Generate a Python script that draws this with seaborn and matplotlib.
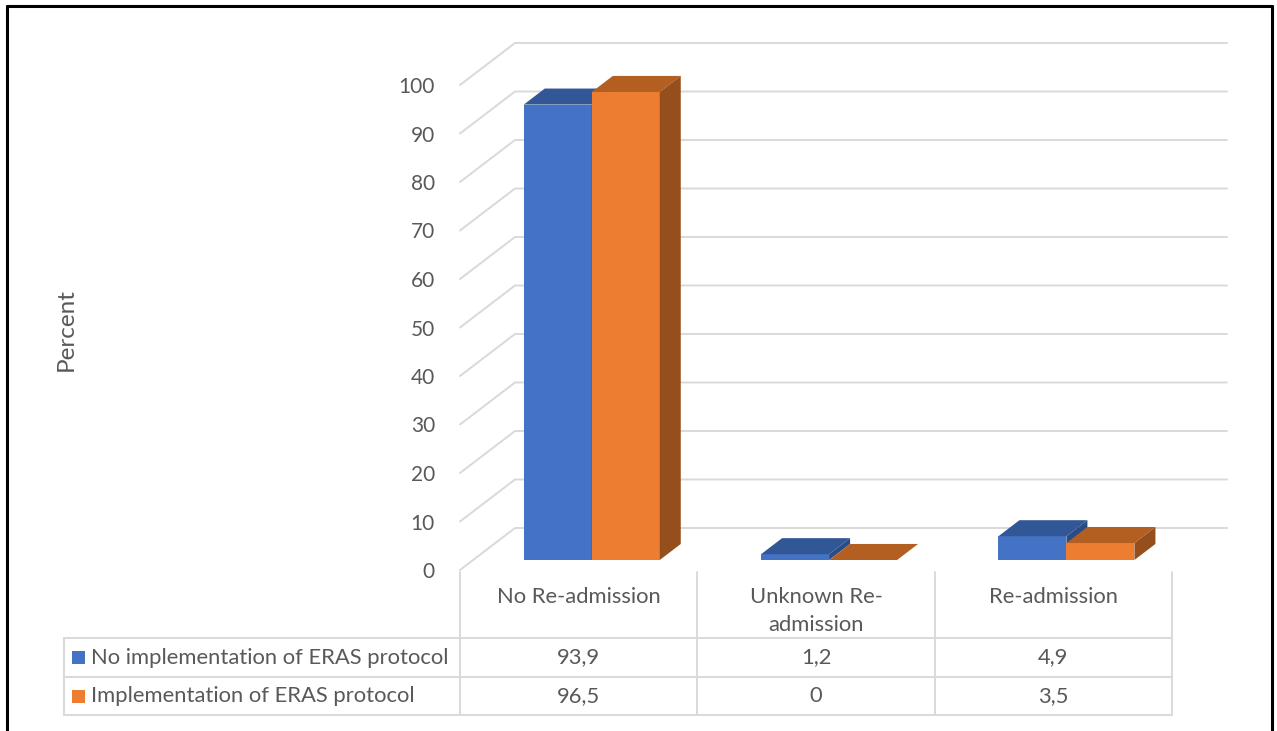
import matplotlib
matplotlib.use("Agg")
import matplotlib.pyplot as plt
from matplotlib.lines import Line2D
from matplotlib.patches import Rectangle
import seaborn as sns
import pandas as pd

# ---- data -------------------------------------------------------------
categories = ["No Re-admission", "Unknown Re-\nadmission", "Re-admission"]
series_names = ["No implementation of ERAS protocol", "Implementation of ERAS protocol"]
no_eras = [93.9, 1.2, 4.9]
eras = [96.5, 0.0, 3.5]
y_ticks = list(range(0, 101, 10))

# ---- styling ----------------------------------------------------------
front_colors = ["#4472C4", "#ED7D31"]
top_colors = ["#325796", "#B45F22"]
side_colors = ["#2A4C86", "#954F1C"]
grid_color = "#D9D9D9"
text_color = "#595959"
TXT = 15.8

sns.set_theme(style="white")
plt.rcParams["font.family"] = ["Lato", "DejaVu Sans"]

W, H = 1277, 731
fig = plt.figure(figsize=(W / 100, H / 100), dpi=100)
fig.patch.set_facecolor("white")


def fx(px):
    return px / W


def fy(py):
    return 1 - py / H


# pixel geometry of the plot box
X_LEFT, X_RIGHT = 460, 1172        # front floor edge
Y_ZERO = 570                        # value 0 at the front edge
PPU = 4.85                          # pixels per percent
PPC = (X_RIGHT - X_LEFT) / 3        # pixels per category
DEPTH_X, DEPTH_Y = 55, 42           # full depth of the box, pixels
T0, T1 = 0.238, 0.62                # bar depth range (fraction of box depth)
Y_MAX = 110

ax_h = Y_MAX * PPU
# axes on the front plane of the box: gridlines and value ticks
ax0 = fig.add_axes([fx(X_LEFT), fy(Y_ZERO), (X_RIGHT - X_LEFT) / W, ax_h / H])
# axes on the front plane of the bars
bx0 = X_LEFT + T0 * DEPTH_X
by0 = Y_ZERO - T0 * DEPTH_Y
ax = fig.add_axes([fx(bx0), fy(by0), (X_RIGHT - X_LEFT) / W, ax_h / H])

for a in (ax0, ax):
    a.set_xlim(-0.5, 2.5)
    a.set_ylim(0, Y_MAX)
    a.set_facecolor("none")
    for s in a.spines.values():
        s.set_visible(False)
    a.set_xlabel("")
    a.set_ylabel("")

# back wall / side wall gridlines
DX = DEPTH_X / PPC
DY = DEPTH_Y / PPU
for v in y_ticks:
    ax0.plot([-0.5, -0.5 + DX, 2.5 + DX], [v, v + DY, v + DY],
             color=grid_color, lw=1.4, clip_on=False, zorder=1)

ax0.set_yticks(y_ticks)
ax0.set_yticklabels([str(t) for t in y_ticks], fontsize=15, color=text_color)
ax0.tick_params(axis="y", length=0, pad=18)
ax0.set_xticks([])

# bars (front faces)
df = pd.DataFrame({
    "category": categories * 2,
    "series": [series_names[0]] * 3 + [series_names[1]] * 3,
    "value": no_eras + eras,
})
sns.barplot(data=df, x="category", y="value", hue="series",
            order=categories, hue_order=series_names, palette=front_colors,
            width=0.573, errorbar=None, legend=False, ax=ax,
            saturation=1, linewidth=0)
ax.set_xlim(-0.5, 2.5)
ax.set_ylim(0, Y_MAX)
ax.set_xticks([])
ax.set_yticks([])
ax.set_xlabel("")
ax.set_ylabel("")

# depth of each bar in data units
bdx = (T1 - T0) * DEPTH_X / PPC
bdy = (T1 - T0) * DEPTH_Y / PPU
bars = sorted([p for p in ax.patches if isinstance(p, Rectangle)], key=lambda p: p.get_x())
for i, p in enumerate(bars):
    k = i % 2
    x0, w, h = p.get_x(), p.get_width(), p.get_height()
    x1 = x0 + w
    z = 3 + i * 3
    p.set_facecolor(front_colors[k])
    p.set_edgecolor("none")
    p.set_zorder(z)
    p.set_clip_on(False)
    ax.fill([x0, x1, x1 + bdx, x0 + bdx], [h, h, h + bdy, h + bdy],
            color=top_colors[k], lw=0, zorder=z + 1, clip_on=False)
    ax.fill([x1, x1 + bdx, x1 + bdx, x1], [0, bdy, h + bdy, h],
            color=side_colors[k], lw=0, zorder=z + 2, clip_on=False)

# axis title
fig.text(fx(66), fy(330), "Percent", rotation=90, ha="center", va="center",
         fontsize=17.5, color=text_color)

# ---- data table -------------------------------------------------------
def hline(y, x0, x1):
    fig.add_artist(Line2D([fx(x0), fx(x1)], [fy(y), fy(y)], color=grid_color, lw=1.4))


def vline(x, y0, y1):
    fig.add_artist(Line2D([fx(x), fx(x)], [fy(y0), fy(y1)], color=grid_color, lw=1.4))


TBL_LEFT = 64
ROW_Y = [638, 677, 715]
for y in ROW_Y:
    hline(y, TBL_LEFT, X_RIGHT)
vline(TBL_LEFT, ROW_Y[0], ROW_Y[-1])
for i in range(4):
    vline(X_LEFT + i * PPC, 572, ROW_Y[-1])

for i, cat in enumerate(categories):
    cx = X_LEFT + (i + 0.5) * PPC
    fig.text(fx(cx), fy(587), cat, ha="center", va="top", fontsize=TXT,
             color=text_color, linespacing=1.48)

for r, (name, vals) in enumerate(zip(series_names, [no_eras, eras])):
    cy = (ROW_Y[r] + ROW_Y[r + 1]) / 2
    fig.add_artist(Rectangle((fx(72), fy(cy + 6.5)), 13 / W, 13 / H,
                             facecolor=front_colors[r], edgecolor="none",
                             transform=fig.transFigure))
    fig.text(fx(91), fy(cy), name, ha="left", va="center", fontsize=TXT,
             color=text_color)
    for i, v in enumerate(vals):
        cx = X_LEFT + (i + 0.5) * PPC
        label = f"{v:g}".replace(".", ",")
        fig.text(fx(cx), fy(cy), label, ha="center", va="center", fontsize=TXT,
                 color=text_color)

# outer frame
for xs, ys in [([7, 7], [6, 731]), ([7, 1272], [6, 6]), ([1272, 1272], [6, 731])]:
    fig.add_artist(Line2D([fx(x) for x in xs], [fy(y) for y in ys],
                          color="black", lw=2.2))

fig.savefig("out.png", dpi=100, facecolor="white")
